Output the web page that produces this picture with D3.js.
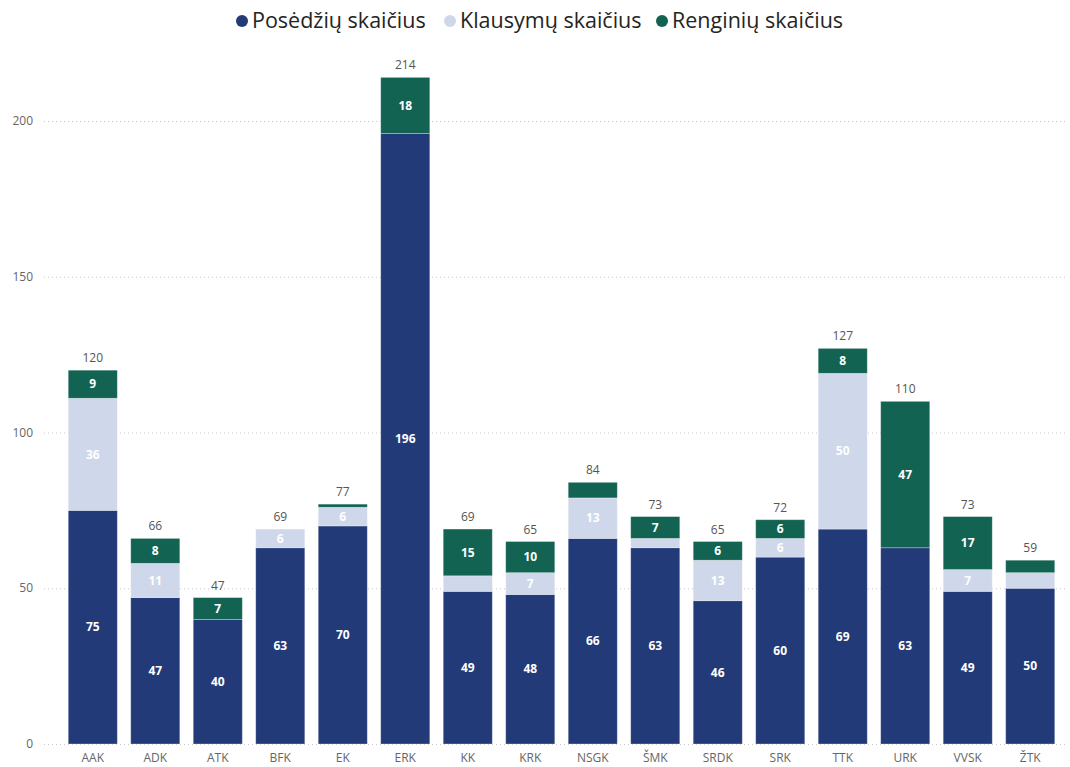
<!DOCTYPE html>
<html><head><meta charset="utf-8">
<script src="https://cdn.jsdelivr.net/npm/d3@7"></script>
<style>
body{margin:0;background:#fff;}
text{font-family:"Segoe UI","Open Sans","Noto Sans",sans-serif;}
</style></head>
<body><svg id="c" width="1070" height="767"></svg>
<script>
const categories = ["AAK","ADK","ATK","BFK","EK","ERK","KK","KRK","NSGK","ŠMK","SRDK","SRK","TTK","URK","VVSK","ŽTK"];
const posedziu  = [75,47,40,63,70,196,49,48,66,63,46,60,69,63,49,50];
const klausymu  = [36,11,0,6,6,0,5,7,13,3,13,6,50,0,7,5];
const renginiu  = [9,8,7,0,1,18,15,10,5,7,6,6,8,47,17,4];
const seriesNames = ["Posėdžių skaičius","Klausymų skaičius","Renginių skaičius"];
const colors = ["#233a78","#cfd8ea","#136352"];
const yTicks = [0,50,100,150,200];

const svg = d3.select("#c");
const x = d3.scaleBand().domain(categories).range([62,1061]).paddingInner(0.215).paddingOuter(0.1);
const y = d3.scaleLinear().domain([0,200]).range([744,121]);

const rows = categories.map((c,i)=>({cat:c,p:posedziu[i],k:klausymu[i],r:renginiu[i]}));
const stack = d3.stack().keys(["p","k","r"])(rows);

// gridlines
svg.append("g").selectAll("line").data(yTicks).join("line")
  .attr("x1",44).attr("x2",1068).attr("y1",d=>y(d)+0.5).attr("y2",d=>y(d)+0.5)
  .attr("stroke","#c8c8c8").attr("stroke-dasharray","1,3");
svg.append("g").selectAll("text").data(yTicks).join("text")
  .attr("x",33).attr("y",d=>y(d)).attr("dy","0.35em").attr("text-anchor","end")
  .attr("font-size",12).attr("fill","#666").text(d=>d);

// bars
stack.forEach((s,si)=>{
  const g = svg.append("g");
  g.selectAll("rect").data(s.filter(d=>d[1]-d[0]>0)).join("rect")
    .attr("x",d=>x(d.data.cat)).attr("width",x.bandwidth())
    .attr("y",d=>y(d[1])).attr("height",d=>y(d[0])-y(d[1]))
    .attr("fill",colors[si]).attr("stroke","#fff").attr("stroke-opacity",0.35).attr("stroke-width",0.8);
  g.selectAll("text").data(s.filter(d=>d[1]-d[0]>=6)).join("text")
    .attr("x",d=>x(d.data.cat)+x.bandwidth()/2).attr("y",d=>(y(d[0])+y(d[1]))/2)
    .attr("dy","0.35em").attr("text-anchor","middle").attr("font-size",12).attr("font-weight","bold")
    .attr("fill","#fff").text(d=>d[1]-d[0]);
});

// totals
svg.append("g").selectAll("text").data(rows).join("text")
  .attr("x",d=>x(d.cat)+x.bandwidth()/2).attr("y",d=>y(d.p+d.k+d.r)-8)
  .attr("text-anchor","middle").attr("font-size",12).attr("fill","#555").text(d=>d.p+d.k+d.r);

// x axis labels
svg.append("g").selectAll("text").data(categories).join("text")
  .attr("x",d=>x(d)+x.bandwidth()/2).attr("y",762).attr("text-anchor","middle")
  .attr("font-size",12).attr("fill","#666").text(d=>d);

// legend
const legX = [242,450,662];
const lg = svg.append("g");
seriesNames.forEach((n,i)=>{
  lg.append("circle").attr("cx",legX[i]).attr("cy",21).attr("r",6).attr("fill",colors[i]);
  lg.append("text").attr("x",legX[i]+10).attr("y",28).attr("font-size",21.5).attr("fill","#252423").text(n);
});
</script></body></html>
